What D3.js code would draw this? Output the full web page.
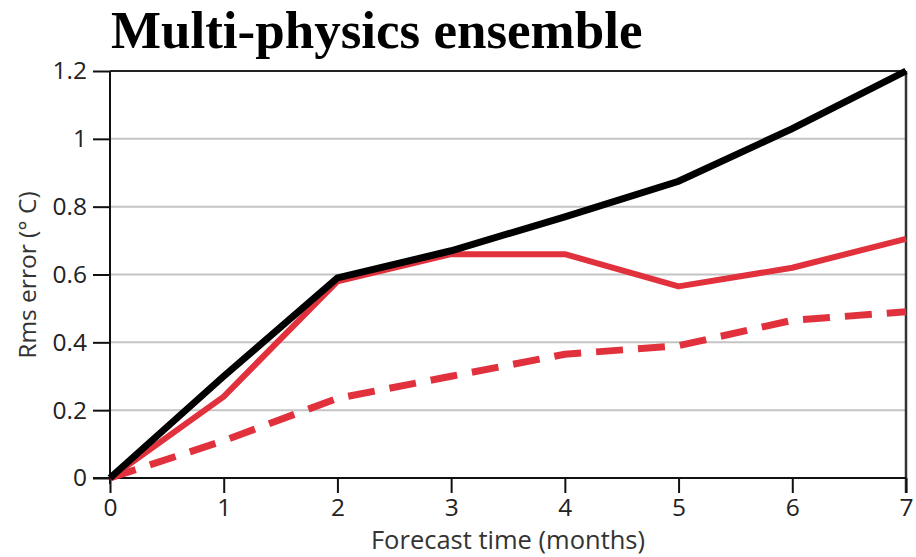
<!DOCTYPE html>
<html>
<head>
<meta charset="utf-8">
<script src="https://cdn.jsdelivr.net/npm/d3@7"></script>
<style>
  html, body { margin: 0; padding: 0; background: #fff; }
  svg { display: block; }
  .tick text { font-family: "Open Sans", sans-serif; fill: #222; }
</style>
</head>
<body>
<svg id="chart" width="916" height="557"></svg>
<script>
// Forecast lead time (months)
const months = [0, 1, 2, 3, 4, 5, 6, 7];
// RMS error (°C) per lead time
const blackSeries = [0, 0.30, 0.59, 0.67, 0.77, 0.875, 1.03, 1.2];
const redSolidSeries = [0, 0.24, 0.58, 0.66, 0.66, 0.565, 0.62, 0.705];
const redDashedSeries = [0, 0.11, 0.235, 0.30, 0.365, 0.39, 0.465, 0.49];
const yTicks = [0, 0.2, 0.4, 0.6, 0.8, 1, 1.2];
const xTicks = [0, 1, 2, 3, 4, 5, 6, 7];
const title = "Multi-physics ensemble";
const xTitle = "Forecast time (months)";
const yTitle = "Rms error (° C)";

const svg = d3.select("#chart");
const plotLeft = 110, plotRight = 906, plotTop = 71, plotBottom = 478;

const x = d3.scaleLinear().domain([0, 7]).range([plotLeft, plotRight]);
const y = d3.scaleLinear().domain([0, 1.2]).range([plotBottom, plotTop]);

const red = "#e1313d";

// horizontal grid
svg.append("g")
  .selectAll("line")
  .data(yTicks.filter(t => t > 0 && t < 1.2))
  .join("line")
  .attr("x1", plotLeft).attr("x2", plotRight)
  .attr("y1", d => y(d)).attr("y2", d => y(d))
  .attr("stroke", "#c4c4c4")
  .attr("stroke-width", 2);

// frame: top and right edges
svg.append("line")
  .attr("x1", plotLeft).attr("x2", plotRight)
  .attr("y1", y(1.2)).attr("y2", y(1.2))
  .attr("stroke", "#222").attr("stroke-width", 2);
svg.append("line")
  .attr("x1", plotRight).attr("x2", plotRight)
  .attr("y1", y(1.2)).attr("y2", plotBottom + 15)
  .attr("stroke", "#333").attr("stroke-width", 2.5);

// axes
const fmt = d => String(+d.toFixed(1));
const yAxis = svg.append("g")
  .attr("transform", `translate(${plotLeft},0)`)
  .call(d3.axisLeft(y).tickValues(yTicks).tickFormat(fmt).tickSize(17).tickPadding(6).tickSizeOuter(0));
const xAxis = svg.append("g")
  .attr("transform", `translate(0,${plotBottom})`)
  .call(d3.axisBottom(x).tickValues(xTicks).tickFormat(fmt).tickSize(15).tickPadding(6).tickSizeOuter(0));

[yAxis, xAxis].forEach(g => {
  g.select(".domain").attr("stroke", "#111").attr("stroke-width", 2);
  g.selectAll(".tick line").attr("stroke", "#111").attr("stroke-width", 2);
  g.selectAll(".tick text").attr("font-size", 24.5);
});
yAxis.select(".domain").attr("d", `M0,${plotBottom + 6}V${plotTop}`);
xAxis.select(".domain").attr("d", `M${plotLeft - 17},0H${plotRight}`);

// series lines
const line = d3.line().x((d, i) => x(months[i])).y(d => y(d));

svg.append("path")
  .attr("d", line(redDashedSeries))
  .attr("fill", "none")
  .attr("stroke", red)
  .attr("stroke-width", 7)
  .attr("stroke-dasharray", "27,15");

svg.append("path")
  .attr("d", line(redSolidSeries))
  .attr("fill", "none")
  .attr("stroke", red)
  .attr("stroke-width", 6)
  .attr("stroke-linejoin", "round");

svg.append("path")
  .attr("d", line(blackSeries))
  .attr("fill", "none")
  .attr("stroke", "#000")
  .attr("stroke-width", 7)
  .attr("stroke-linejoin", "miter");

// titles
svg.append("text")
  .attr("x", 111).attr("y", 48)
  .attr("font-family", "'Liberation Serif', 'Times New Roman', serif")
  .attr("font-weight", "bold")
  .attr("font-size", 53)
  .attr("fill", "#000")
  .text(title);

svg.append("text")
  .attr("x", 508).attr("y", 549)
  .attr("text-anchor", "middle")
  .attr("font-family", "'Open Sans', sans-serif")
  .attr("font-size", 25.5)
  .attr("fill", "#333")
  .text(xTitle);

svg.append("text")
  .attr("transform", "translate(36,275) rotate(-90)")
  .attr("text-anchor", "middle")
  .attr("font-family", "'Open Sans', sans-serif")
  .attr("font-size", 24.5)
  .attr("fill", "#333")
  .text(yTitle);
</script>
</body>
</html>
